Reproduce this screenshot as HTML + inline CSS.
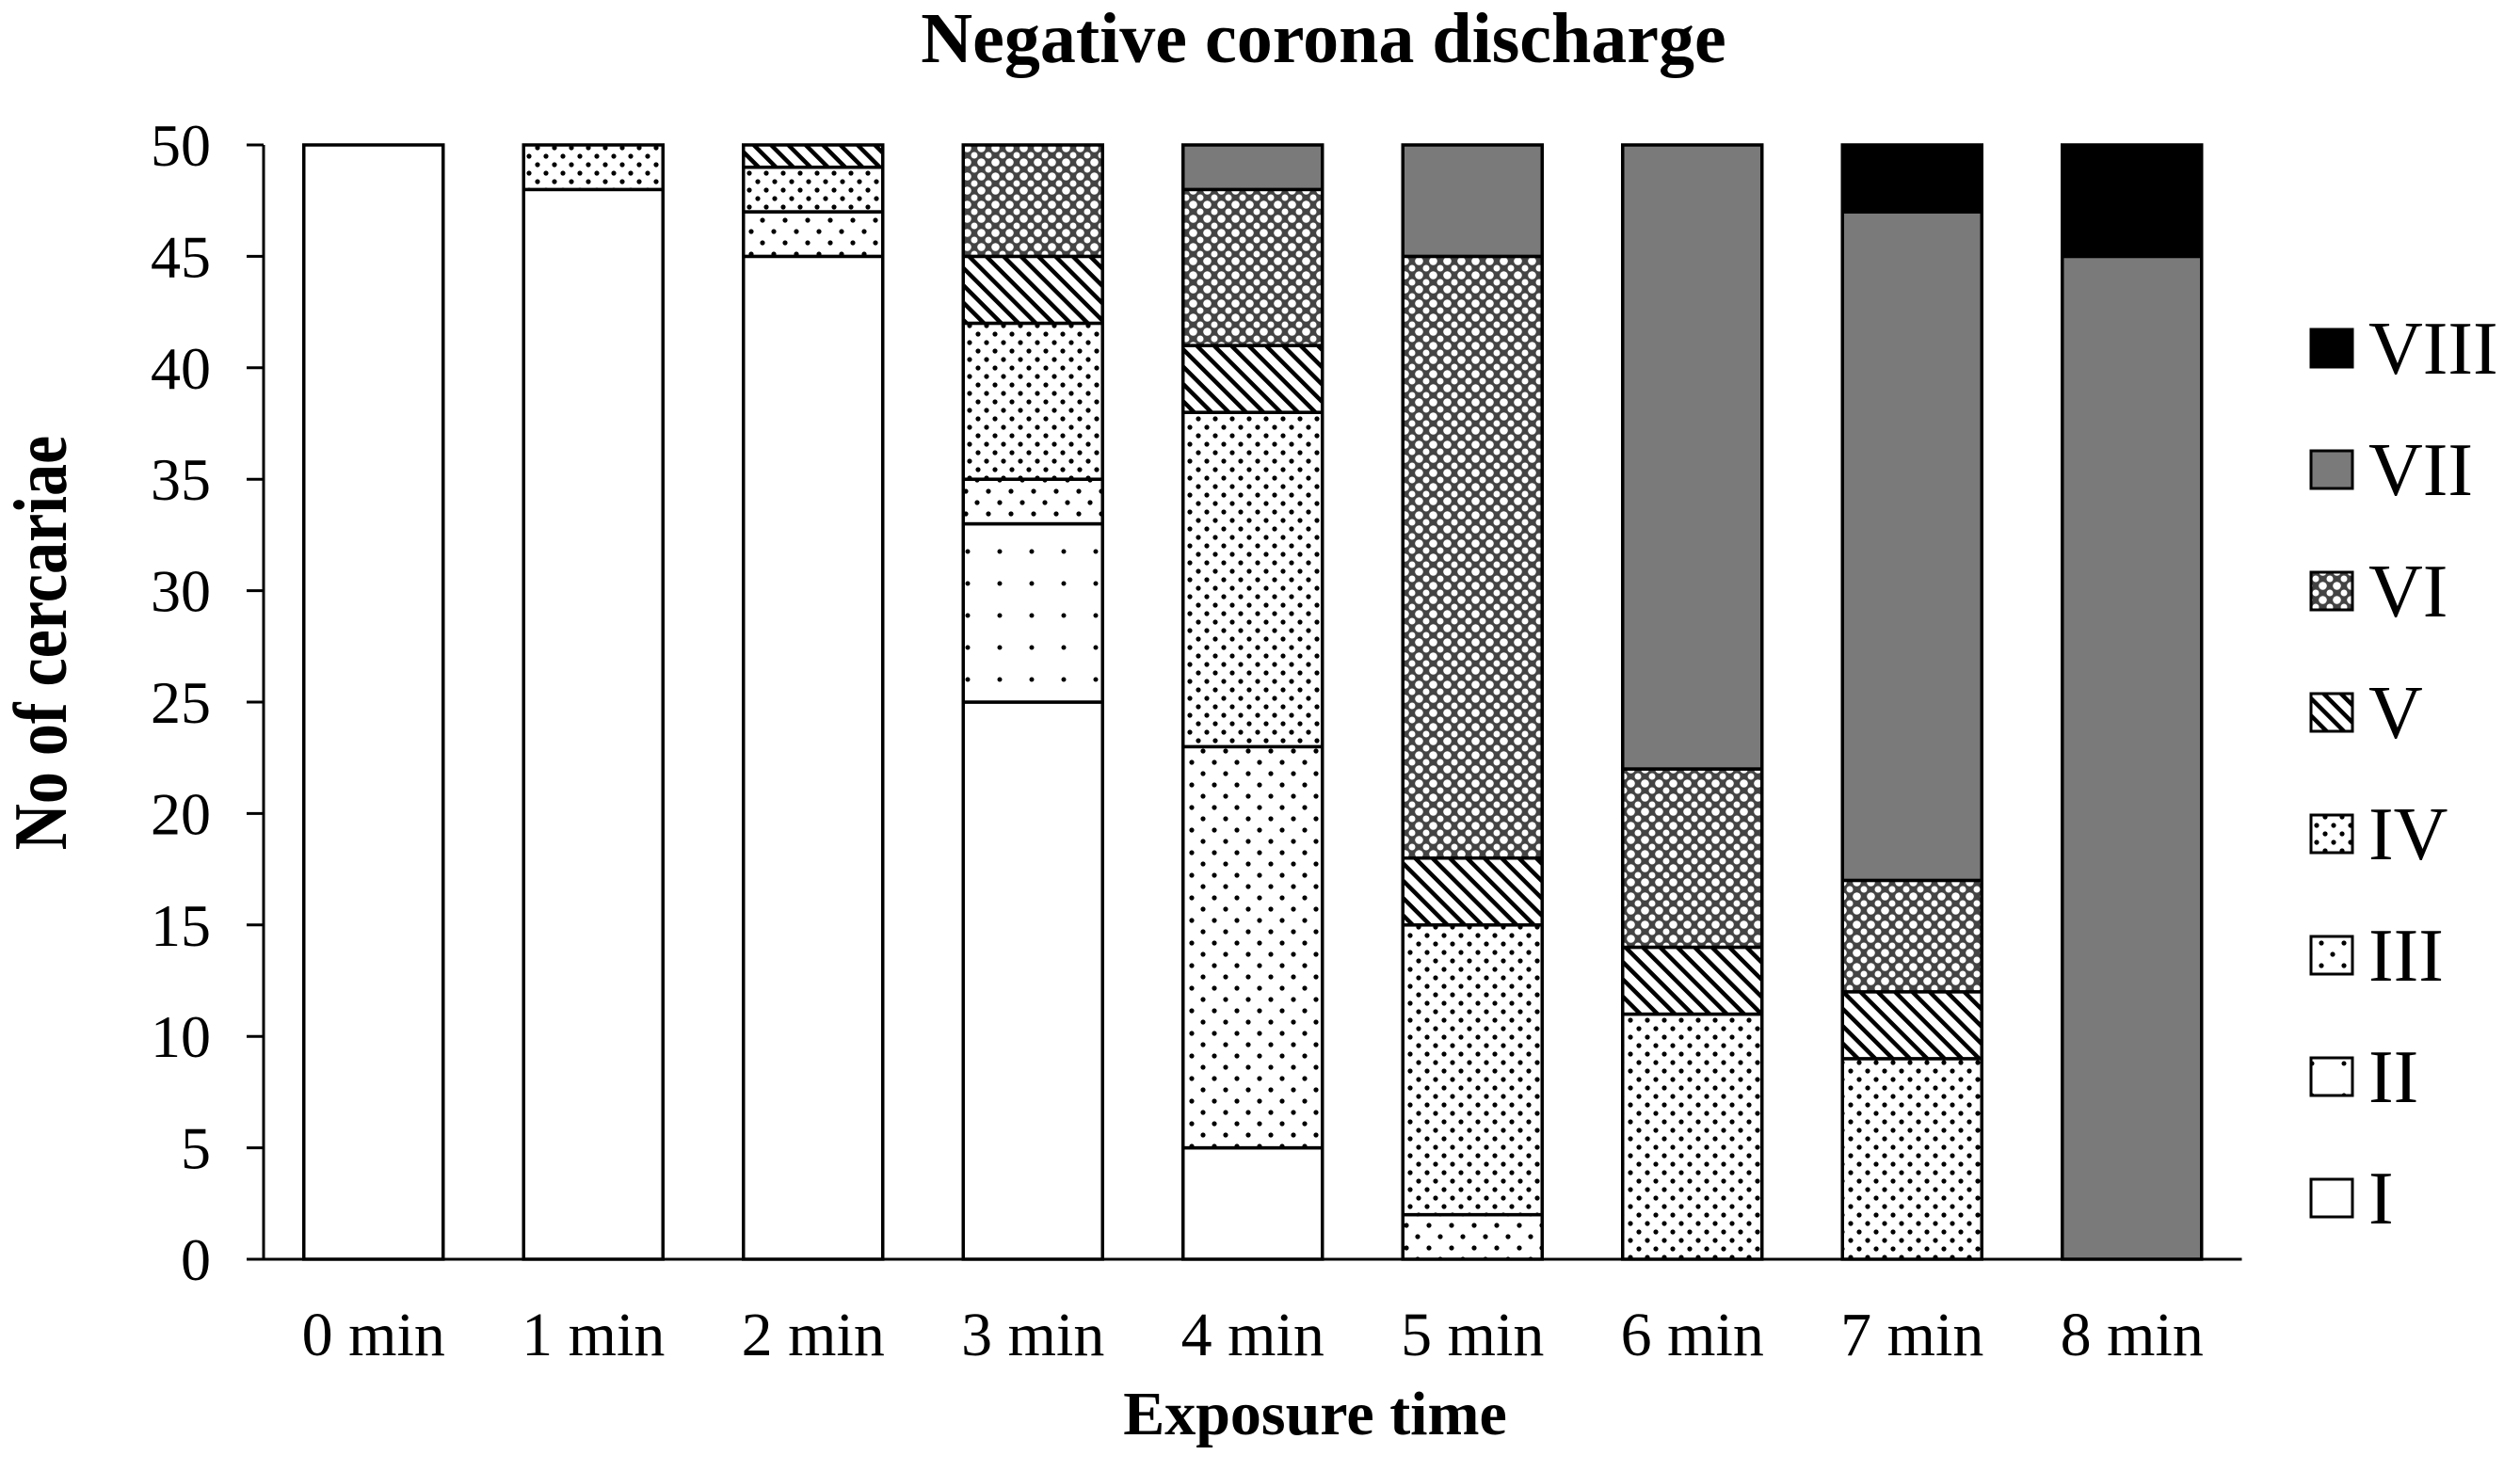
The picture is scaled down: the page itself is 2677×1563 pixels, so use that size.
<!DOCTYPE html>
<html><head><meta charset="utf-8"><style>
html,body{margin:0;padding:0;background:#fff;}
svg{display:block;font-family:"Liberation Serif",serif;}
</style></head><body>
<svg id="chart" width="2677" height="1563" viewBox="0 0 2677 1563">
<defs>
<pattern id="p2" width="34" height="34" patternUnits="userSpaceOnUse"><rect width="34" height="34" fill="#fff"/><circle cx="8" cy="8" r="2.5" fill="#000"/></pattern>
<pattern id="p3" width="24" height="24" patternUnits="userSpaceOnUse"><rect width="24" height="24" fill="#fff"/><circle cx="6" cy="6" r="2.6" fill="#000"/><circle cx="18" cy="18" r="2.6" fill="#000"/></pattern>
<pattern id="p4" width="18" height="18" patternUnits="userSpaceOnUse"><rect width="18" height="18" fill="#fff"/><circle cx="4" cy="4" r="2.6" fill="#000"/><circle cx="13" cy="13" r="2.6" fill="#000"/></pattern>
<pattern id="p5" width="13" height="13" patternUnits="userSpaceOnUse" patternTransform="rotate(-45)"><rect width="13" height="13" fill="#fff"/><rect x="0" y="0" width="4.5" height="13" fill="#000"/></pattern>
<pattern id="p6" width="15" height="15" patternUnits="userSpaceOnUse"><rect width="15" height="15" fill="#444"/><circle cx="7.5" cy="7.5" r="4.3" fill="#fff"/><circle cx="0" cy="0" r="3.5" fill="#fff"/><circle cx="15" cy="0" r="3.5" fill="#fff"/><circle cx="0" cy="15" r="3.5" fill="#fff"/><circle cx="15" cy="15" r="3.5" fill="#fff"/></pattern>
</defs>
<text x="1406" y="66" text-anchor="middle" font-size="76" font-weight="bold">Negative corona discharge</text>
<g id="axes"></g>
<g id="bars"></g>
<g id="legend"></g>
<text x="1397" y="1524" text-anchor="middle" font-size="66" font-weight="bold">Exposure time</text>
<text transform="translate(70,683) rotate(-90) scale(0.85,1)" text-anchor="middle" font-size="80" font-weight="bold">No of cercariae</text>
</svg>
<script>
const categories = ["0 min","1 min","2 min","3 min","4 min","5 min","6 min","7 min","8 min"];
const seriesNames = ["I","II","III","IV","V","VI","VII","VIII"];
const sI    = [50,48,45,25,5,0,0,0,0];
const sII   = [0,0,0,8,0,0,0,0,0];
const sIII  = [0,0,2,2,18,2,0,0,0];
const sIV   = [0,2,2,7,15,13,11,9,0];
const sV    = [0,0,1,3,3,3,3,3,0];
const sVI   = [0,0,0,5,7,27,8,5,0];
const sVII  = [0,0,0,0,2,5,28,30,45];
const sVIII = [0,0,0,0,0,0,0,3,5];
const yTicks = [0,5,10,15,20,25,30,35,40,45,50];
const series = [sI,sII,sIII,sIV,sV,sVI,sVII,sVIII];
const fills = ["#fff","url(#p2)","url(#p3)","url(#p4)","url(#p5)","url(#p6)","#7a7a7a","#000"];
const NS="http://www.w3.org/2000/svg";
const X0=280,Y0=1338,Y50=154,YMAX=50;
const band=233.5, X1=X0+band*categories.length, bw=148;
const y=v=>Y0-(v/YMAX)*(Y0-Y50);
const xc=i=>X0+band*(i+0.5);
function mk(t,a,p){const e=document.createElementNS(NS,t);for(const k in a)e.setAttribute(k,a[k]);p.appendChild(e);return e;}
const axes=document.getElementById('axes'),bars=document.getElementById('bars'),leg=document.getElementById('legend');
const ya=mk('line',{x1:X0,y1:Y50,x2:X0,y2:Y0,stroke:'#000','stroke-width':3},axes);


const xa=mk('line',{x1:X0-18,y1:Y0,x2:X1,y2:Y0,stroke:'#000','stroke-width':3},axes);


yTicks.forEach(t=>{
  const l=mk('line',{x1:X0-18,x2:X0,y1:y(t),y2:y(t),stroke:'#000','stroke-width':3},axes);
  
  
  const tx=mk('text',{x:224,y:y(t)+22,'text-anchor':'end','font-size':64},axes);
  tx.textContent=t;
  
  
});
categories.forEach((c,i)=>{
  const tx=mk('text',{x:xc(i),y:1440,'text-anchor':'middle','font-size':66},axes);
  tx.textContent=c;
  
  
  let cum=0;
  series.forEach((s,k)=>{
    const v=s[i]; if(!v) return;
    const r=mk('rect',{x:xc(i)-bw/2,y:y(cum+v),width:bw,height:y(cum)-y(cum+v),fill:fills[k],stroke:'#000','stroke-width':3.5},bars);
    
    
    cum+=v;
  });
});
seriesNames.slice().reverse().forEach((n,j)=>{
  const k=seriesNames.length-1-j, cy=370+j*129;
  const r=mk('rect',{x:2455,y:cy-20,width:44,height:40,fill:fills[k],stroke:'#000','stroke-width':3},leg);
  
  
  const t=mk('text',{x:2516,y:cy+27,'font-size':80},leg);
  t.textContent=n;
  
  
});
</script>
</body></html>
